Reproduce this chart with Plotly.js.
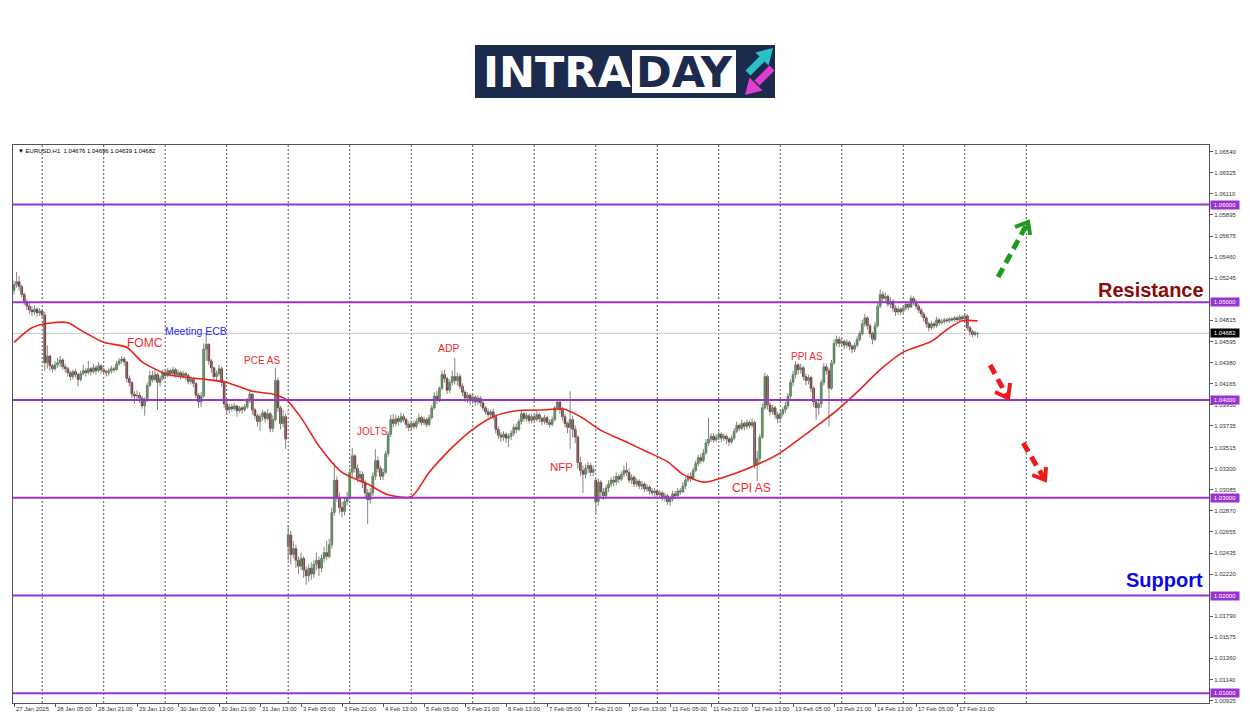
<!DOCTYPE html>
<html><head><meta charset="utf-8">
<script src="https://cdn.plot.ly/plotly-3.0.1.min.js"></script>
<style>html,body{margin:0;padding:0;background:#fff;}#chart{width:1250px;height:716px;}</style>
</head><body><div id="chart"></div>
<script>
// ---------- DATA (prices in pips above 1.0000, EURUSD H1) ----------
const PIP = 0.0001, BASE = 1.0;
const openPips = [
512,518,521,516,508,500,496,492,490,493,489,491,487,
438,445,435,432,436,438,441,434,432,428,
424,429,426,421,427,430,428,432,429,433,
430,435,431,429,428,430,432,431,437,440,
442,439,422,418,406,404,405,402,394,400,
415,425,421,426,418,422,428,425,430,427,
431,426,428,424,427,425,419,421,417,405,
398,404,452,457,440,433,424,427,432,418,
396,390,393,391,394,389,392,390,393,399,
406,390,384,378,383,387,381,386,371,380,
420,392,376,383,250,262,242,248,236,230,
238,226,220,228,222,232,236,228,238,244,
240,252,285,318,300,290,286,296,300,326,
343,330,320,324,316,305,298,305,322,338,
330,322,326,345,365,380,376,381,378,383,
380,375,372,376,373,378,382,377,380,375,
382,392,404,400,412,426,422,410,418,424,
420,424,414,408,402,405,399,403,398,402,
397,392,388,385,388,383,370,364,362,365,
361,363,366,372,370,378,386,381,384,379,
383,380,385,381,378,382,377,375,380,392,
398,390,383,376,372,380,370,362,336,328,
324,330,333,326,318,296,316,306,302,310,
314,318,316,322,319,324,328,326,318,321,
314,317,312,314,309,311,307,305,307,303,
305,300,302,296,299,304,302,307,306,312,
318,322,320,328,335,341,338,346,356,360,
363,359,362,365,361,363,360,357,361,368,
374,371,376,373,377,374,377,334,340,362,
392,424,395,388,392,385,381,386,390,394,
404,418,426,436,431,433,424,420,423,412,
398,392,396,418,434,430,412,438,458,462,
458,460,456,459,455,452,456,462,468,478,
484,476,468,462,476,496,508,504,506,498,
501,494,490,493,491,494,498,495,504,500,
496,492,488,484,478,474,478,476,482,479,
480,482,481,483,482,484,482,485,483,486,
474,470,467,467.6];
const highPips = [
522,531,527,518,510,503,499,496,497,495,494,493,490,
456,446,437,440,443,445,443,437,434,430,
431,432,428,430,436,433,440,434,437,436,
439,437,433,431,433,435,434,440,443,445,
444,440,425,419,409,410,408,404,403,418,
430,430,431,428,425,431,432,433,432,434,
433,431,430,430,429,427,424,423,418,407,
408,458,469,458,442,434,430,436,434,420,
398,396,396,397,395,394,394,396,402,410,
407,392,386,386,390,389,391,388,384,433,
423,394,390,386,272,266,256,252,240,244,
240,230,232,234,236,244,240,242,250,256,
258,290,336,322,305,296,300,306,330,351,
345,334,328,327,318,309,310,326,350,342,
333,330,348,368,385,386,385,384,387,386,
382,378,379,379,381,386,384,383,382,385,
395,408,409,414,430,431,424,421,430,443,
428,427,417,410,408,407,406,405,405,404,
399,394,391,390,391,385,373,367,368,367,
366,369,375,376,381,390,388,387,386,386,
385,389,387,383,385,384,380,383,394,401,
400,393,386,378,409,384,374,364,342,333,
334,337,336,333,320,320,318,310,313,318,
321,322,326,324,327,333,336,330,324,323,
320,319,317,316,314,313,310,310,309,308,
307,305,304,302,307,307,310,310,316,321,
325,326,331,338,344,345,350,360,382,366,
366,365,368,367,366,365,362,364,371,378,
376,380,378,380,379,381,379,348,365,396,
428,426,398,395,394,388,389,393,398,407,
421,430,440,438,437,435,427,426,425,414,
401,400,421,438,437,433,441,462,466,465,
463,462,462,461,457,459,465,471,482,488,
486,478,470,480,500,513,511,510,508,505,
503,497,496,495,497,501,500,507,506,503,
498,494,490,486,480,481,480,485,484,483,
484,484,485,485,486,486,487,487,489,488,
476,472,471,469.6];
const lowPips = [
508,515,512,505,497,492,488,486,487,485,486,484,430,
432,430,428,430,433,434,431,428,424,420,
421,423,414,419,425,424,426,425,427,426,
428,427,426,424,425,427,428,430,435,437,
435,418,414,402,396,400,397,391,384,398,
413,418,419,390,414,420,421,423,424,425,
423,424,421,422,420,416,416,413,402,392,
393,402,440,436,428,419,420,424,414,392,
385,386,388,389,383,387,386,388,391,397,
385,380,373,368,379,377,379,367,367,378,
388,370,372,350,236,232,238,228,222,226,
218,211,214,216,218,226,220,224,234,236,
238,248,282,296,284,280,282,292,298,322,
326,316,316,310,300,273,294,302,318,326,
318,318,324,342,362,372,373,374,376,377,
371,368,369,370,371,375,374,374,372,373,
380,390,396,398,410,418,406,407,415,416,
415,411,404,398,397,395,396,394,395,393,
389,385,382,381,380,366,360,357,358,356,
352,359,363,366,368,375,378,378,376,376,
377,378,377,374,375,374,372,373,378,389,
386,379,372,366,350,362,356,330,322,305,
320,325,322,322,284,292,300,298,299,306,
311,312,313,315,317,321,322,315,314,311,
311,309,308,306,306,303,302,301,299,300,
297,296,293,292,296,299,300,303,305,309,
316,316,318,326,332,335,336,344,353,357,
356,357,359,357,358,355,353,355,359,366,
368,369,369,370,371,372,330,317,336,360,
390,390,384,385,381,376,378,383,387,391,
401,414,422,426,427,420,415,416,408,393,
380,385,392,415,426,373,410,436,455,454,
455,452,453,451,448,449,454,460,466,475,
472,464,457,460,474,494,500,500,495,494,
490,486,487,487,488,492,492,494,497,493,
489,485,480,474,470,472,473,474,476,477,
478,479,479,480,480,480,480,481,480,471,
466,464,465,463.9];
const closePips = [
518,521,516,508,500,496,492,490,493,489,491,487,438,
445,435,432,436,438,441,434,432,428,424,
429,426,421,427,430,428,432,429,433,430,
435,431,429,428,430,432,431,437,440,442,
439,422,418,406,404,405,402,394,400,415,
425,421,426,418,422,428,425,430,427,431,
426,428,424,427,425,419,421,417,405,398,
404,452,457,440,433,424,427,432,418,396,
390,393,391,394,389,392,390,393,399,406,
390,384,378,383,387,381,386,371,380,420,
392,376,383,360,262,242,248,236,230,238,
226,220,228,222,232,236,228,238,244,240,
252,285,318,300,290,286,296,300,326,343,
330,320,324,316,305,298,305,322,338,330,
322,326,345,365,380,376,381,378,383,380,
375,372,376,373,378,382,377,380,375,382,
392,404,400,412,426,422,410,418,424,420,
424,414,408,402,405,399,403,398,402,397,
392,388,385,388,383,370,364,362,365,361,
363,366,372,370,378,386,381,384,379,383,
380,385,381,378,382,377,375,380,392,398,
390,383,376,372,380,370,362,336,328,324,
330,333,326,329,296,316,306,302,310,314,
318,316,322,319,324,328,326,318,321,314,
317,312,314,309,311,307,305,307,303,305,
300,302,296,299,304,302,307,306,312,318,
322,320,328,335,341,338,346,356,360,363,
359,362,365,361,363,360,357,361,368,374,
371,376,373,377,374,377,334,340,362,392,
424,395,388,392,385,381,386,390,394,404,
418,426,436,431,433,424,420,423,412,398,
392,396,418,434,430,412,438,458,462,458,
460,456,459,455,452,456,462,468,478,484,
476,468,462,476,496,508,504,506,498,501,
494,490,493,490,494,498,495,504,500,496,
492,488,484,478,474,478,476,482,479,480,
482,481,483,482,484,482,485,483,486,474,
470,467,469,468.2];

// moving average
const maBars = [0,7,15,21,27,35,44,50,60,68,75,83,93,101,106,112,119,128,138,146,155,162,170,179,187,196,208,214,221,229,239,247,255,261,269,277,290,299,310,320,329,338,347,358,364,370,376];
const maPips = [459,474,479,479,470,459,454,439,426,423,421,418,409,406,401,382,353,326,314,303,301,326,349,370,383,389,390,391,383,369,357,347,337,324,316,321,334,346,367,387,408,431,449,460,472,481,481];

const xTickBars = [0,16,32,48,64,80,96,112,128,144,160,176,192,208,224,240,256,272,288,304,320,336,352,368];
const xTickLabels = ['27 Jan 2025','28 Jan 05:00','28 Jan 21:00','29 Jan 13:00','30 Jan 05:00','30 Jan 21:00','31 Jan 13:00','3 Feb 05:00','3 Feb 21:00','4 Feb 13:00','5 Feb 05:00','5 Feb 21:00','6 Feb 13:00','7 Feb 05:00','7 Feb 21:00','10 Feb 13:00','11 Feb 05:00','11 Feb 21:00','12 Feb 13:00','13 Feb 05:00','13 Feb 21:00','14 Feb 13:00','17 Feb 05:00','17 Feb 21:00'];
const daySeparatorBars = [11,35,59,83,107,131,155,179,203,227,251,275,299,323,347,371,395];
const yTickLabels = ['1.06540','1.06325','1.06110','1.05895','1.05675','1.05460','1.05245','1.04815','1.04595','1.04380','1.04165','1.03950','1.03735','1.03515','1.03300','1.03085','1.02870','1.02655','1.02435','1.02220','1.01790','1.01575','1.01360','1.01140','1.00925'];
const levelPrices = [1.06, 1.05, 1.04, 1.03, 1.02, 1.01];
const levelLabels = ['1.06000','1.05000','1.04000','1.03000','1.02000','1.01000'];
const headerText = '\u25BC EURUSD,H1  1.04676 1.04696 1.04639 1.04682';

const eventNames  = ['FOMC','Meeting ECB','PCE AS','JOLTS','ADP','NFP','CPI AS','PPI AS'];
const eventBars   = [51.1, 71.0, 96.8, 139.7, 169.8, 213.5, 287.6, 309.5];
const eventPrices = [1.04583, 1.04706, 1.04409, 1.03673, 1.04532, 1.03315, 1.03100, 1.04450];
const eventColors = ['#ee2a2a','#2b2bf0','#ee2a2a','#ee2a2a','#ee2a2a','#ee2a2a','#ee2a2a','#ee2a2a'];
const eventSizes  = [12, 10.5, 10, 10, 10.5, 11.5, 12, 10];

// scenario arrows: tail, tip, two chevron arms (bar index, price)
const arrowColors = ['#1f9a1f','#ee1a1a','#ee1a1a'];
const arrowTail = [[384.0,1.05258],[380.9,1.04358],[393.8,1.03560]];
const arrowTip  = [[395.7,1.05821],[387.9,1.04021],[402.3,1.03182]];
const arrowArmA = [[390.6,1.05770],[382.8,1.04082],[397.3,1.03233]];
const arrowArmB = [[396.5,1.05688],[388.7,1.04174],[402.7,1.03315]];

// ---------- BUILD ----------
const N = closePips.length;
const P = v => BASE + v * PIP;
const X_RANGE = [-0.39, 466.3];
const Y_RANGE = [1.009008, 1.066086];

const wx = [], wy = [];
const bx = [], bbase = [], bh = [], bcol = [], blc = [];
for (let i = 0; i < N; i++) {
  wx.push(i, i, null); wy.push(P(lowPips[i]), P(highPips[i]), null);
  const o = openPips[i], c = closePips[i];
  bx.push(i);
  bbase.push(P(Math.min(o, c)));
  bh.push(Math.max(Math.abs(c - o), 0.6) * PIP);
  const up = c >= o;
  bcol.push(up ? '#3a9a3a' : '#7a1414');
  blc.push(up ? '#1f5f1f' : '#4a0808');
}

const traces = [
  {type:'scatter', mode:'lines', x:wx, y:wy, line:{color:'#858585', width:1}, hoverinfo:'skip'},
  {type:'bar', x:bx, base:bbase, y:bh, width:0.75, marker:{color:bcol, line:{color:blc, width:0.5}}, hoverinfo:'skip'},
  {type:'scatter', mode:'lines', x:maBars, y:maPips.map(P), line:{color:'#e8211d', width:1.6, shape:'spline', smoothing:0.7}, hoverinfo:'skip'}
];

const shapes = [];
daySeparatorBars.forEach(b => shapes.push({type:'line', xref:'x', yref:'paper', x0:b, x1:b, y0:0, y1:1, layer:'below', line:{color:'#555', width:1, dash:'2px,2px'}}));
levelPrices.forEach(v => shapes.push({type:'line', xref:'paper', yref:'y', x0:0, x1:1, y0:v, y1:v, layer:'above', line:{color:'#9a32cf', width:2}}));
const lastClose = P(closePips[N-1]);
shapes.push({type:'line', xref:'paper', yref:'y', x0:0, x1:1, y0:lastClose, y1:lastClose, layer:'below', line:{color:'#c8c8c8', width:1}});
for (let k = 0; k < arrowColors.length; k++) {
  shapes.push({type:'line', xref:'x', yref:'y', x0:arrowTail[k][0], y0:arrowTail[k][1], x1:arrowTip[k][0], y1:arrowTip[k][1], line:{color:arrowColors[k], width:5, dash:'10px,6px'}});
  shapes.push({type:'path', xref:'x', yref:'y', path:`M ${arrowArmA[k][0]},${arrowArmA[k][1]} L ${arrowTip[k][0]},${arrowTip[k][1]} L ${arrowArmB[k][0]},${arrowArmB[k][1]}`, line:{color:arrowColors[k], width:4}});
}

// logo (decoration, pixel -> paper helpers)
const px = v => (v - 13) / 1196, py = v => (703 - v) / 558;
const poly = pts => 'M ' + pts.map(p => px(p[0]) + ',' + py(p[1])).join(' L ') + ' Z';
shapes.push({type:'rect', xref:'paper', yref:'paper', x0:px(475), x1:px(775), y0:py(98), y1:py(45), fillcolor:'#1c2a4e', line:{width:0}});
shapes.push({type:'rect', xref:'paper', yref:'paper', x0:px(632), x1:px(736), y0:py(93), y1:py(50), fillcolor:'#ffffff', line:{width:0}});
shapes.push({type:'line', xref:'paper', yref:'paper', x0:px(748), y0:py(73), x1:px(763), y1:py(58), line:{color:'#27c3c9', width:7}});
shapes.push({type:'path', xref:'paper', yref:'paper', path:poly([[773,48],[755.5,52.5],[768.5,65.5]]), fillcolor:'#27c3c9', line:{width:0}});
shapes.push({type:'line', xref:'paper', yref:'paper', x0:px(772), y0:py(68), x1:px(757), y1:py(83), line:{color:'#e03dd3', width:7}});
shapes.push({type:'path', xref:'paper', yref:'paper', path:poly([[745,95],[749.5,77.5],[762.5,90.5]]), fillcolor:'#e03dd3', line:{width:0}});

const FONT = 'Liberation Sans, Arial, sans-serif';
const ann = [];
xTickBars.forEach((b, i) => ann.push({x:b, y:0, xref:'x', yref:'paper', text:xTickLabels[i], showarrow:false, xanchor:'left', yanchor:'top', yshift:-1, font:{family:FONT, size:6, color:'#333'}}));
levelPrices.forEach((v, i) => ann.push({x:1, y:v, xref:'paper', yref:'y', text:levelLabels[i], showarrow:false, xanchor:'left', yanchor:'middle', xshift:1, width:28, height:8, bgcolor:'#9a32cf', borderpad:0, font:{family:FONT, size:6, color:'#fff'}}));
ann.push({x:1, y:lastClose, xref:'paper', yref:'y', text:'1.04682', showarrow:false, xanchor:'left', yanchor:'middle', xshift:1, width:28, height:8, bgcolor:'#000', borderpad:0, font:{family:FONT, size:6, color:'#fff'}});
ann.push({x:px(16), y:1, xref:'paper', yref:'paper', text:headerText, showarrow:false, xanchor:'left', yanchor:'top', yshift:-1, font:{family:FONT, size:6, color:'#000'}});
eventNames.forEach((t, i) => ann.push({x:eventBars[i], y:eventPrices[i], xref:'x', yref:'y', text:t, showarrow:false, xanchor:'center', yanchor:'middle', font:{family:FONT, size:eventSizes[i], color:eventColors[i]}}));
ann.push({x:443.7, y:1.05125, xref:'x', yref:'y', text:'Resistance', showarrow:false, xanchor:'center', yanchor:'middle', font:{family:FONT, size:20, weight:'bold', color:'#8c0a0a'}});
ann.push({x:448.9, y:1.02159, xref:'x', yref:'y', text:'Support', showarrow:false, xanchor:'center', yanchor:'middle', font:{family:FONT, size:20, weight:'bold', color:'#0a0ae6'}});
ann.push({x:px(557), y:py(72), xref:'paper', yref:'paper', text:'INTRA', showarrow:false, xanchor:'center', yanchor:'middle', font:{family:'DejaVu Sans', size:43, weight:'bold', color:'#ffffff'}});
ann.push({x:px(684), y:py(72), xref:'paper', yref:'paper', text:'DAY', showarrow:false, xanchor:'center', yanchor:'middle', font:{family:'DejaVu Sans', size:43, weight:'bold', color:'#1c2a4e'}});

const layout = {
  width:1250, height:716, margin:{l:13, r:41, t:145, b:13},
  paper_bgcolor:'#ffffff', plot_bgcolor:'#ffffff', showlegend:false,
  font:{family:FONT},
  xaxis:{range:X_RANGE, showgrid:false, zeroline:false, showline:true, mirror:true, linecolor:'#555', linewidth:1,
         ticks:'outside', ticklen:3, tickcolor:'#555', tickmode:'array', tickvals:xTickBars, showticklabels:false, fixedrange:true},
  yaxis:{range:Y_RANGE, side:'right', showgrid:false, zeroline:false, showline:true, mirror:true, linecolor:'#555', linewidth:1,
         ticks:'outside', ticklen:3, tickcolor:'#555', tickmode:'array', tickvals:yTickLabels.map(Number), ticktext:yTickLabels,
         tickfont:{family:FONT, size:6, color:'#333'}, fixedrange:true},
  shapes:shapes, annotations:ann, bargap:0
};
Plotly.newPlot('chart', traces, layout, {displayModeBar:false, staticPlot:true});
</script></body></html>
